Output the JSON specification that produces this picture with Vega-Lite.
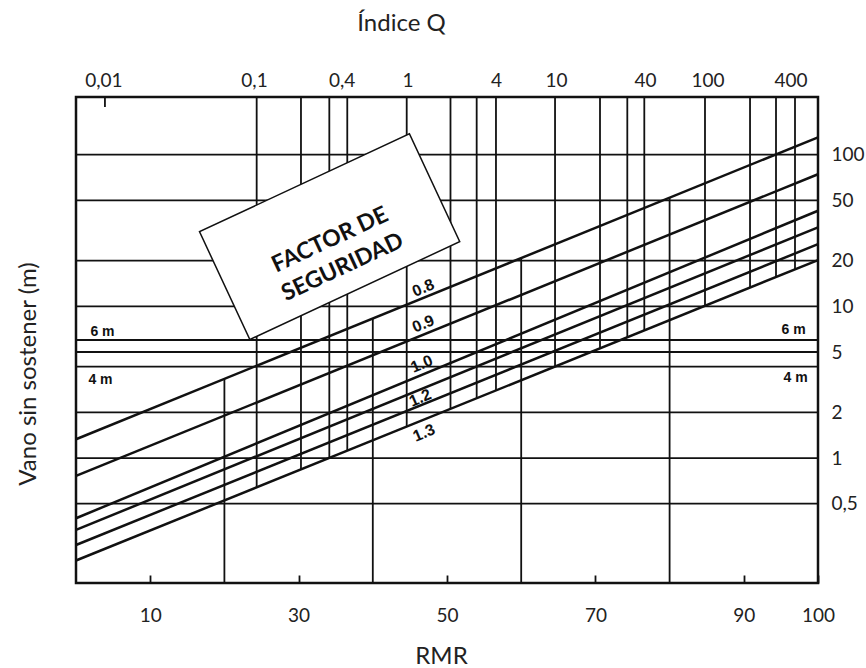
{
  "$schema": "https://vega.github.io/schema/vega-lite/v6.json",
  "width": 742,
  "height": 486,
  "autosize": "none",
  "padding": {"left": 76, "top": 97, "right": 48, "bottom": 85},
  "background": "white",
  "config": {"view": {"stroke": "#111", "strokeWidth": 2.5}, "font": "Lato"},
  "datasets": {
    "hl": [{"v": 100}, {"v": 50}, {"v": 20}, {"v": 10}, {"v": 6}, {"v": 5}, {"v": 4}, {"v": 2}, {"v": 1}, {"v": 0.5}],
    "vl": [
      {"r": 3.9, "top": 240, "bot": 206},
      {"r": 24.35, "top": 240, "bot": 0.641},
      {"r": 30.32, "top": 240, "bot": 0.841},
      {"r": 34.14, "top": 240, "bot": 1.0},
      {"r": 36.56, "top": 240, "bot": 1.118},
      {"r": 44.57, "top": 240, "bot": 1.612},
      {"r": 50.47, "top": 240, "bot": 2.11},
      {"r": 54.0, "top": 240, "bot": 2.48},
      {"r": 56.6, "top": 240, "bot": 2.79},
      {"r": 64.56, "top": 240, "bot": 4.01},
      {"r": 70.62, "top": 240, "bot": 5.29},
      {"r": 74.3, "top": 240, "bot": 6.26},
      {"r": 76.59, "top": 240, "bot": 6.95},
      {"r": 84.77, "top": 240, "bot": 10.1},
      {"r": 90.84, "top": 240, "bot": 13.3},
      {"r": 94.34, "top": 240, "bot": 15.6},
      {"r": 96.9, "top": 240, "bot": 17.6},
      {"r": 20, "top": 3.33, "bot": 0.15},
      {"r": 40, "top": 8.32, "bot": 0.15},
      {"r": 60, "top": 20.8, "bot": 0.15},
      {"r": 80, "top": 52.1, "bot": 0.15}
    ],
    "fs": [
      {"s": "a", "r": 0, "v": 1.33}, {"s": "a", "r": 100, "v": 130.2},
      {"s": "b", "r": 0, "v": 0.762}, {"s": "b", "r": 100, "v": 74.3},
      {"s": "c", "r": 0, "v": 0.401}, {"s": "c", "r": 100, "v": 42.7},
      {"s": "d", "r": 0, "v": 0.336}, {"s": "d", "r": 100, "v": 33.2},
      {"s": "e", "r": 0, "v": 0.267}, {"s": "e", "r": 100, "v": 25.7},
      {"s": "f", "r": 0, "v": 0.211}, {"s": "f", "r": 100, "v": 20.2}
    ],
    "box": [{"r": 34.18, "v": 28.8}],
    "boxtext": [{"r": 34.23, "v": 27.4, "t": "FACTOR DE\nSEGURIDAD"}],
    "fslab": [
      {"r": 46.8, "v": 13.2, "t": "0.8"},
      {"r": 46.8, "v": 7.66, "t": "0.9"},
      {"r": 46.6, "v": 4.17, "t": "1.0"},
      {"r": 46.4, "v": 2.49, "t": "1.2"},
      {"r": 46.9, "v": 1.46, "t": "1.3"}
    ],
    "spanlab": [
      {"r": 3.57, "v": 6.78, "t": "6 m"},
      {"r": 3.3, "v": 3.27, "t": "4 m"},
      {"r": 96.7, "v": 6.99, "t": "6 m"},
      {"r": 96.97, "v": 3.37, "t": "4 m"}
    ]
  },
  "resolve": {"axis": {"x": "independent", "y": "independent"}},
  "layer": [
    {
      "data": {"name": "hl"},
      "mark": {"type": "rule", "color": "#111", "strokeWidth": 1.8},
      "encoding": {
        "y": {
          "field": "v", "type": "quantitative",
          "scale": {"type": "log", "domain": [0.15, 240], "nice": false},
          "axis": {
            "orient": "right", "values": [0.5, 1, 2, 5, 10, 20, 50, 100],
            "labelExpr": "datum.value < 1 ? '0,5' : format(datum.value, 'd')",
            "ticks": false, "tickSize": 0, "domain": false, "grid": false,
            "labelPadding": 13, "labelFontSize": 19, "labelColor": "#222", "labelFont": "Lato",
            "title": null
          }
        }
      }
    },
    {
      "data": {"name": "vl"},
      "mark": {"type": "rule", "color": "#111", "strokeWidth": 1.8},
      "encoding": {
        "x": {
          "field": "r", "type": "quantitative",
          "scale": {"domain": [0, 100], "nice": false, "zero": false},
          "axis": {
            "orient": "bottom", "values": [10, 30, 50, 70, 90, 100], "offset": -8,
            "ticks": true, "tickSize": 8, "tickWidth": 1.8, "tickColor": "#111",
            "domain": false, "grid": false, "labelFlush": false,
            "labelPadding": 23, "labelBaseline": "top", "labelFontSize": 19, "labelColor": "#222", "labelFont": "Lato",
            "title": "RMR", "titleFont": "Lato", "titleFontSize": 24, "titleFontWeight": "normal", "titleColor": "#222",
            "titleX": 365, "titleY": 81, "titleBaseline": "middle", "titleAlign": "center"
          }
        },
        "y": {"field": "top", "type": "quantitative", "scale": {"type": "log", "domain": [0.15, 240], "nice": false}, "axis": null},
        "y2": {"field": "bot"}
      }
    },
    {
      "data": {"name": "fs"},
      "mark": {"type": "line", "color": "#111", "strokeWidth": 2.5},
      "encoding": {
        "x": {
          "field": "r", "type": "quantitative",
          "scale": {"domain": [0, 100], "nice": false, "zero": false},
          "axis": {
            "orient": "top", "values": [3.7, 23.99, 35.81, 44.68, 56.6, 64.69, 76.68, 85.11, 96.29],
            "labelExpr": "datum.value < 10 ? '0,01' : datum.value < 30 ? '0,1' : datum.value < 40 ? '0,4' : datum.value < 50 ? '1' : datum.value < 60 ? '4' : datum.value < 70 ? '10' : datum.value < 80 ? '40' : datum.value < 90 ? '100' : '400'",
            "ticks": false, "tickSize": 0, "domain": false, "grid": false, "labelFlush": false,
            "labelPadding": 7, "labelFontSize": 19, "labelColor": "#222", "labelFont": "Lato",
            "title": "Índice Q", "titleFont": "Lato", "titleFontSize": 24, "titleFontWeight": "normal", "titleColor": "#222",
            "titleX": 325, "titleY": -74, "titleBaseline": "middle", "titleAlign": "center"
          }
        },
        "y": {
          "field": "v", "type": "quantitative",
          "scale": {"type": "log", "domain": [0.15, 240], "nice": false},
          "axis": {
            "orient": "left", "labels": false, "ticks": false, "domain": false, "grid": false,
            "title": "Vano sin sostener (m)", "titleFont": "Lato", "titleFontSize": 24, "titleFontWeight": "normal", "titleColor": "#222",
            "titleX": -48, "titleY": 276.5, "titleAngle": -90, "titleBaseline": "middle", "titleAlign": "center"
          }
        },
        "detail": {"field": "s"}
      }
    },
    {
      "data": {"name": "box"},
      "mark": {
        "type": "point", "shape": "M-1,-0.514L1,-0.514L1,0.514L-1,0.514Z",
        "size": 53640, "angle": -25, "filled": true, "fill": "white", "stroke": "#111",
        "strokeWidth": 1.5, "opacity": 1, "fillOpacity": 1, "strokeOpacity": 1
      },
      "encoding": {
        "x": {"field": "r", "type": "quantitative", "scale": {"domain": [0, 100], "nice": false, "zero": false}, "axis": null},
        "y": {"field": "v", "type": "quantitative", "scale": {"type": "log", "domain": [0.15, 240], "nice": false}, "axis": null}
      }
    },
    {
      "data": {"name": "boxtext"},
      "mark": {
        "type": "text", "font": "Lato", "fontWeight": "bold", "fontSize": 23, "angle": -25,
        "lineBreak": "\n", "lineHeight": 30, "align": "center", "baseline": "middle", "color": "#111"
      },
      "encoding": {
        "x": {"field": "r", "type": "quantitative", "scale": {"domain": [0, 100], "nice": false, "zero": false}, "axis": null},
        "y": {"field": "v", "type": "quantitative", "scale": {"type": "log", "domain": [0.15, 240], "nice": false}, "axis": null},
        "text": {"field": "t"}
      }
    },
    {
      "data": {"name": "fslab"},
      "mark": {
        "type": "text", "font": "Liberation Sans", "fontWeight": "bold", "fontSize": 16, "angle": -23,
        "align": "center", "baseline": "middle", "color": "#111"
      },
      "encoding": {
        "x": {"field": "r", "type": "quantitative", "scale": {"domain": [0, 100], "nice": false, "zero": false}, "axis": null},
        "y": {"field": "v", "type": "quantitative", "scale": {"type": "log", "domain": [0.15, 240], "nice": false}, "axis": null},
        "text": {"field": "t"}
      }
    },
    {
      "data": {"name": "spanlab"},
      "mark": {
        "type": "text", "font": "Liberation Sans", "fontWeight": "bold", "fontSize": 14,
        "align": "center", "baseline": "middle", "color": "#111"
      },
      "encoding": {
        "x": {"field": "r", "type": "quantitative", "scale": {"domain": [0, 100], "nice": false, "zero": false}, "axis": null},
        "y": {"field": "v", "type": "quantitative", "scale": {"type": "log", "domain": [0.15, 240], "nice": false}, "axis": null},
        "text": {"field": "t"}
      }
    }
  ]
}
